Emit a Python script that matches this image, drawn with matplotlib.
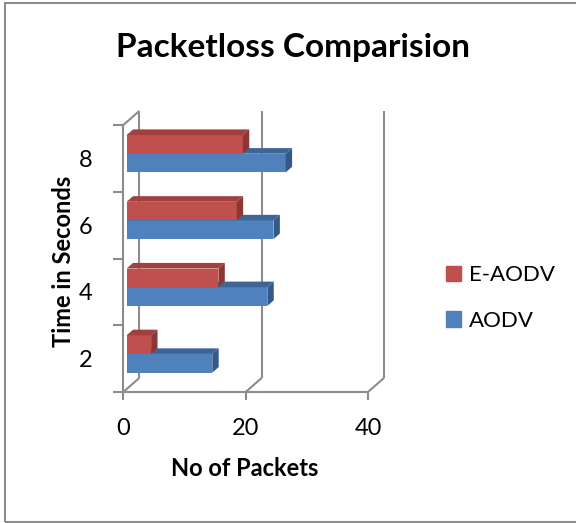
import matplotlib
matplotlib.use("Agg")
import matplotlib.pyplot as plt
from matplotlib.patches import Polygon, Patch, Rectangle

plt.rcParams['font.family'] = ['Lato', 'DejaVu Sans']

times = ['2', '4', '6', '8']
aodv = [14, 23, 24, 26]
e_aodv = [4, 15, 18, 19]

blue = ['#4F81BD', '#3D6697', '#345888']   # front, top, side
red = ['#C0504D', '#A2403D', '#8B3735']
wall = '#8C8C8C'

W, H = 576, 523
fig = plt.figure(figsize=(W / 100, H / 100), dpi=100)

# front plane of the 3-D box, in pixels
x0, x1, ytop, ybot = 123.3, 368.0, 125.0, 392.0
ax = fig.add_axes([x0 / W, (H - ybot) / H, (x1 - x0) / W, (ybot - ytop) / H])
ax.set_xlim(0, 40)
ax.set_ylim(0, len(times))

# depth of the box and of the bars, in data units
dx, dy = 2.61, 0.21
ox, oy = 0.21 * dx, 0.21 * dy
bx, by = 0.40 * dx, 0.40 * dy
h = 0.28

for s in ['top', 'right']:
    ax.spines[s].set_visible(False)
for s in ['left', 'bottom']:
    ax.spines[s].set_color(wall)
    ax.spines[s].set_linewidth(1.5)

# back wall / floor lines
lk = dict(color=wall, lw=1.5, clip_on=False, zorder=1, solid_capstyle='butt')
ax.plot([0, dx], [len(times), len(times) + dy], **lk)
ax.plot([dx, dx], [dy, len(times) + dy], **lk)
for gx in [0, 20, 40]:
    ax.plot([gx, gx + dx], [0, dy], **lk)
    if gx > 0:
        ax.plot([gx + dx, gx + dx], [dy, len(times) + dy], **lk)


def bar3d(vals, base, cols):
    ys = [i + base + oy for i in range(len(vals))]
    ax.barh(ys, vals, height=h, left=ox, align='edge', color=cols[0],
            zorder=3, clip_on=False)
    for v, y in zip(vals, ys):
        top = [(ox, y + h), (ox + bx, y + h + by), (ox + v + bx, y + h + by), (ox + v, y + h)]
        side = [(ox + v, y), (ox + v + bx, y + by), (ox + v + bx, y + h + by), (ox + v, y + h)]
        ax.add_patch(Polygon(top, closed=True, color=cols[1], zorder=3, clip_on=False, lw=0))
        ax.add_patch(Polygon(side, closed=True, color=cols[2], zorder=3, clip_on=False, lw=0))


bar3d(aodv, 0.5 - h - oy + 0.07, blue)
bar3d(e_aodv, 0.5 - oy + 0.07, red)

ax.set_xticks([0, 20, 40])
ax.set_xticklabels(['0', '20', '40'], fontsize=17)
ax.tick_params(axis='x', length=6, width=1.5, color=wall, pad=13)
ax.set_yticks([i + 0.5 for i in range(len(times))])
ax.set_yticklabels(times, fontsize=17)
ax.set_yticks(range(len(times) + 1), minor=True)
ax.tick_params(axis='y', which='major', length=0, pad=22)
ax.tick_params(axis='y', which='minor', length=7, width=1.5, color=wall)
ax.set_facecolor('none')

fig.text(293 / W, 1 - 57 / H, 'Packetloss Comparision', fontsize=24,
         fontweight='bold', ha='center', va='baseline')
fig.text(245 / W, 1 - 476 / H, 'No of Packets', fontsize=17,
         fontweight='bold', ha='center', va='baseline')
fig.text(71 / W, 1 - 261 / H, 'Time in Seconds', fontsize=17,
         fontweight='bold', ha='center', va='baseline', rotation=90,
         rotation_mode='anchor')

handles = [Patch(color=red[0], label='E-AODV'), Patch(color=blue[0], label='AODV')]
fig.legend(handles=handles, loc='center left', bbox_to_anchor=(426 / W, 1 - 298 / H),
           frameon=False, fontsize=16, handlelength=0.68, handleheight=0.68,
           handletextpad=0.35, labelspacing=1.15)

fig.patches.append(Rectangle((5 / W, 1 / H), 1.0, 1 - 4 / H, transform=fig.transFigure,
                             fill=False, edgecolor='#8C8C8C', lw=1.5))

fig.savefig('out.png', dpi=100)
